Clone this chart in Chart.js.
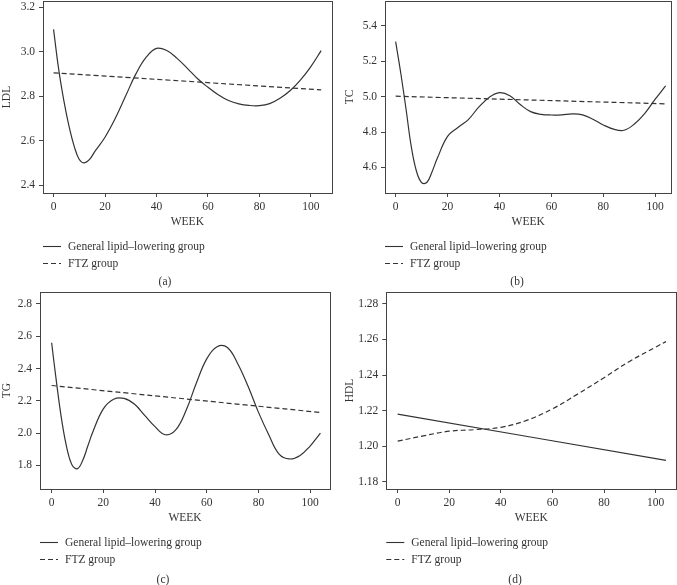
<!DOCTYPE html>
<html>
<head>
<meta charset="utf-8">
<script src="https://cdn.jsdelivr.net/npm/chart.js@4"></script>
<style>
  body { margin: 0; background: #fff; }
  #wrap { position: relative; width: 677px; height: 585px; overflow: hidden; }
  canvas { position: absolute; }
</style>
</head>
<body>
<div id="wrap">
  <canvas id="ldl" width="338" height="290" style="left:0;top:0"></canvas>
  <canvas id="tc" width="334" height="290" style="left:343px;top:0"></canvas>
  <canvas id="tg" width="338" height="295" style="left:0;top:290px"></canvas>
  <canvas id="hdl" width="334" height="295" style="left:343px;top:290px"></canvas>
</div>
<script>
const weeks = [0, 2, 4, 6, 8, 10, 12, 14, 16, 20, 24, 28, 32, 36, 40, 44, 48, 52, 56, 60, 64, 68, 72, 76, 80, 84, 88, 92, 96, 100, 104]
const endWeeks = [0, 104]
const hdlFtzWeeks = [0, 10, 20, 30, 40, 50, 60, 70, 80, 90, 100, 104]
const xTicks = [0, 20, 40, 60, 80, 100]

const ldlGeneral = [3.10, 2.92, 2.78, 2.665, 2.575, 2.515, 2.50, 2.515, 2.55, 2.615, 2.70, 2.80, 2.90, 2.975, 3.015, 3.005, 2.97, 2.925, 2.878, 2.84, 2.806, 2.78, 2.765, 2.758, 2.757, 2.766, 2.79, 2.825, 2.873, 2.933, 3.005]
const ldlFtz = [2.905, 2.828]
const ldlTicks = [2.4, 2.6, 2.8, 3.0, 3.2]

const tcGeneral = [5.31, 5.13, 4.93, 4.72, 4.58, 4.515, 4.515, 4.575, 4.65, 4.775, 4.825, 4.87, 4.94, 4.995, 5.022, 5.005, 4.955, 4.915, 4.90, 4.896, 4.897, 4.902, 4.897, 4.872, 4.84, 4.816, 4.81, 4.845, 4.905, 4.985, 5.06]
const tcFtz = [5.002, 4.959]
const tcTicks = [4.6, 4.8, 5.0, 5.2, 5.4]

const tgGeneral = [2.56, 2.30, 2.07, 1.90, 1.80, 1.78, 1.83, 1.92, 2.01, 2.15, 2.21, 2.215, 2.18, 2.11, 2.04, 1.99, 2.02, 2.14, 2.31, 2.46, 2.535, 2.53, 2.43, 2.29, 2.13, 1.99, 1.87, 1.84, 1.86, 1.92, 2.00]
const tgFtz = [2.295, 2.128]
const tgTicks = [1.8, 2.0, 2.2, 2.4, 2.6, 2.8]

const hdlGeneral = [1.218, 1.192]
const hdlFtz = [1.2028, 1.2058, 1.2084, 1.2093, 1.2106, 1.2145, 1.221, 1.2295, 1.2385, 1.2478, 1.2557, 1.2588]
const hdlTicks = [1.18, 1.20, 1.22, 1.24, 1.26, 1.28]

const INK = '#333'
const FONT = { family: '"Liberation Serif", "DejaVu Serif", serif', size: 11.5 }

function pts(xs, ys) {
  return xs.map((x, i) => ({ x: x, y: ys[i] }))
}

// box round the plot, legend lines and the (a)..(d) caption under each panel
const panelDecor = {
  id: 'panelDecor',
  afterDraw(chart, args, opts) {
    const ctx = chart.ctx
    const a = chart.chartArea
    const yb = chart.scales.x.bottom
    ctx.save()
    ctx.strokeStyle = '#444'
    ctx.lineWidth = 1
    ctx.strokeRect(Math.round(a.left) + 0.5, Math.round(a.top) + 0.5, Math.round(a.right - a.left), Math.round(a.bottom - a.top))
    ctx.font = FONT.size + 'px ' + FONT.family
    ctx.fillStyle = INK
    ctx.strokeStyle = INK
    ctx.textBaseline = 'middle'
    chart.data.datasets.forEach((ds, i) => {
      const y = Math.round(yb + 17 + i * 16.5) + 0.5
      ctx.setLineDash(ds.borderDash || [])
      ctx.lineWidth = 1.1
      ctx.beginPath()
      ctx.moveTo(a.left, y)
      ctx.lineTo(a.left + 18, y)
      ctx.stroke()
      ctx.setLineDash([])
      ctx.fillText(ds.label, a.left + 25, y)
    })
    ctx.textAlign = 'center'
    ctx.fillText(opts.caption, opts.captionX, yb + opts.captionDy)
    ctx.restore()
  }
}

function makePanel(id, p) {
  new Chart(document.getElementById(id), {
    type: 'line',
    data: {
      datasets: [{
        label: 'General lipid–lowering group',
        data: pts(p.genWeeks, p.general),
        borderColor: INK,
        borderWidth: 1.2,
        pointRadius: 0,
        tension: 0.4
      }, {
        label: 'FTZ group',
        data: pts(p.ftzWeeks, p.ftz),
        borderColor: INK,
        borderWidth: 1.2,
        borderDash: [5, 3],
        pointRadius: 0,
        tension: 0.4
      }]
    },
    options: {
      responsive: false,
      animation: false,
      events: [],
      layout: { padding: { left: 0, top: p.top, right: p.right, bottom: p.bottom } },
      plugins: {
        legend: { display: false },
        tooltip: { enabled: false },
        panelDecor: { caption: p.caption, captionX: p.captionX, captionDy: p.captionDy }
      },
      scales: {
        x: {
          type: 'linear',
          min: p.xMin,
          max: p.xMax,
          afterBuildTicks: s => { s.ticks = xTicks.map(v => ({ value: v })) },
          afterFit: s => { s.height = 36; s.paddingLeft = 0; s.paddingRight = 0 },
          grid: { drawOnChartArea: false, drawTicks: true, tickLength: 4, color: '#444' },
          border: { display: true, color: '#444' },
          ticks: { color: INK, font: FONT, padding: 3, maxRotation: 0, autoSkip: false },
          title: { display: true, text: 'WEEK', color: INK, font: FONT, padding: 0 }
        },
        y: {
          min: p.yMin,
          max: p.yMax,
          afterBuildTicks: s => { s.ticks = p.yTicks.map(v => ({ value: v })) },
          afterFit: s => { s.width = p.yWidth; s.paddingTop = 0; s.paddingBottom = 0 },
          grid: { drawOnChartArea: false, drawTicks: true, tickLength: 4, color: '#444' },
          border: { display: true, color: '#444' },
          ticks: { color: INK, font: FONT, padding: 4, autoSkip: false, callback: v => v.toFixed(p.digits) },
          title: { display: true, text: p.yTitle, color: INK, font: FONT, padding: 0 }
        }
      }
    },
    plugins: [panelDecor]
  })
}

makePanel('ldl', {
  genWeeks: weeks, general: ldlGeneral, ftzWeeks: endWeeks, ftz: ldlFtz,
  yTicks: ldlTicks, yMin: 2.364, yMax: 3.228, digits: 1, yTitle: 'LDL',
  xMin: -4.1, xMax: 108.1, yWidth: 43, top: 1, right: 6.3, bottom: 61,
  caption: '(a)', captionX: 165, captionDy: 53
})
makePanel('tc', {
  genWeeks: weeks, general: tcGeneral, ftzWeeks: endWeeks, ftz: tcFtz,
  yTicks: tcTicks, yMin: 4.456, yMax: 5.539, digits: 1, yTitle: 'TC',
  xMin: -4.1, xMax: 106.2, yWidth: 42, top: 1, right: 5.7, bottom: 61,
  caption: '(b)', captionX: 174, captionDy: 53
})
makePanel('tg', {
  genWeeks: weeks, general: tgGeneral, ftzWeeks: endWeeks, ftz: tgFtz,
  yTicks: tgTicks, yMin: 1.654, yMax: 2.874, digits: 1, yTitle: 'TG',
  xMin: -4.5, xMax: 107.7, yWidth: 40, top: 2, right: 8, bottom: 60,
  caption: '(c)', captionX: 163, captionDy: 55
})
makePanel('hdl', {
  genWeeks: endWeeks, general: hdlGeneral, ftzWeeks: hdlFtzWeeks, ftz: hdlFtz,
  yTicks: hdlTicks, yMin: 1.1759, yMax: 1.2867, digits: 2, yTitle: 'HDL',
  xMin: -4.4, xMax: 108, yWidth: 43.3, top: 2, right: 0.7, bottom: 60,
  caption: '(d)', captionX: 172, captionDy: 55
})
</script>
</body>
</html>
